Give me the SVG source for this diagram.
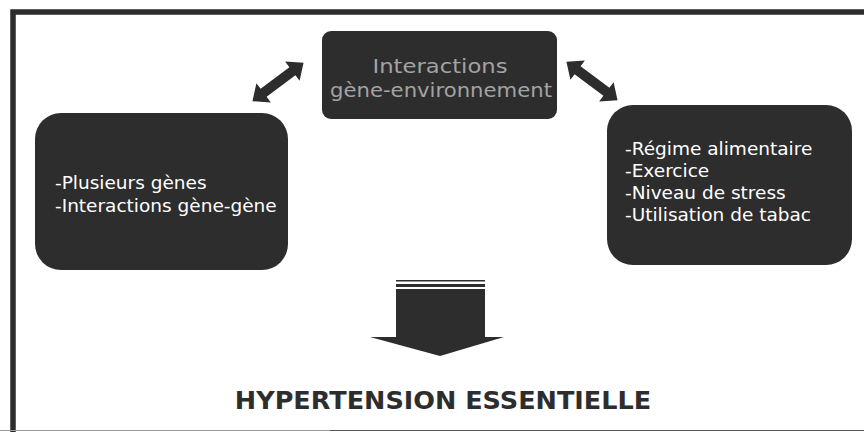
<svg xmlns="http://www.w3.org/2000/svg" width="864" height="432" viewBox="0 0 864 432">
<style>
.box{fill:#2d2d2d}
.t{font-family:"DejaVu Sans",Verdana,sans-serif;font-size:18.5px;fill:#ffffff}
.c{font-family:"DejaVu Sans",Verdana,sans-serif;font-size:20px;fill:#a3a3a3;text-anchor:middle}
.title{font-family:"DejaVu Sans",Verdana,sans-serif;font-size:25.5px;font-weight:bold;fill:#2d2d2d;text-anchor:middle}
.arr{fill:#2d2d2d}
</style>
<rect width="864" height="432" fill="#ffffff"/>
<path d="M13 432 V12 H864" fill="none" stroke="#2d2d2d" stroke-width="5.5"/>
<line x1="0" y1="430.5" x2="864" y2="430.5" stroke="#9a9a9a" stroke-width="1"/>
<line x1="330" y1="430.5" x2="864" y2="430.5" stroke="#555" stroke-width="1"/>
<g id="center">
<rect class="box" x="322" y="31" width="235" height="88" rx="9"/>
<text class="c" x="440" y="73" textLength="135" lengthAdjust="spacingAndGlyphs">Interactions</text>
<text class="c" x="441" y="97" textLength="222" lengthAdjust="spacingAndGlyphs">gène-environnement</text>
</g>
<g id="left">
<rect class="box" x="35" y="113" width="253" height="157" rx="26"/>
<text class="t" x="55" y="189">-Plusieurs gènes</text>
<text class="t" x="55" y="212">-Interactions gène-gène</text>
</g>
<g id="right">
<rect class="box" x="607" y="105" width="245" height="160" rx="26"/>
<text class="t" x="625" y="155">-Régime alimentaire</text>
<text class="t" x="625" y="177">-Exercice</text>
<text class="t" x="625" y="199">-Niveau de stress</text>
<text class="t" x="625" y="221">-Utilisation de tabac</text>
</g>
<g id="connectors">
<polygon class="arr" transform="translate(278,82) rotate(-37)" points="-32,0 -18,-12 -18,-5 18,-5 18,-12 32,0 18,12 18,5 -18,5 -18,12"/>
<polygon class="arr" transform="translate(592,81) rotate(37)" points="-32,0 -18,-12 -18,-5 18,-5 18,-12 32,0 18,12 18,5 -18,5 -18,12"/>
<rect class="arr" x="396" y="280" width="89" height="1.5"/>
<rect class="arr" x="396" y="284" width="89" height="3"/>
<polygon class="arr" points="396,289 485,289 485,337 504,337 440,356 370,337 396,337"/>
</g>
<g id="result">
<text class="title" x="443" y="409">HYPERTENSION ESSENTIELLE</text>
</g>
</svg>
